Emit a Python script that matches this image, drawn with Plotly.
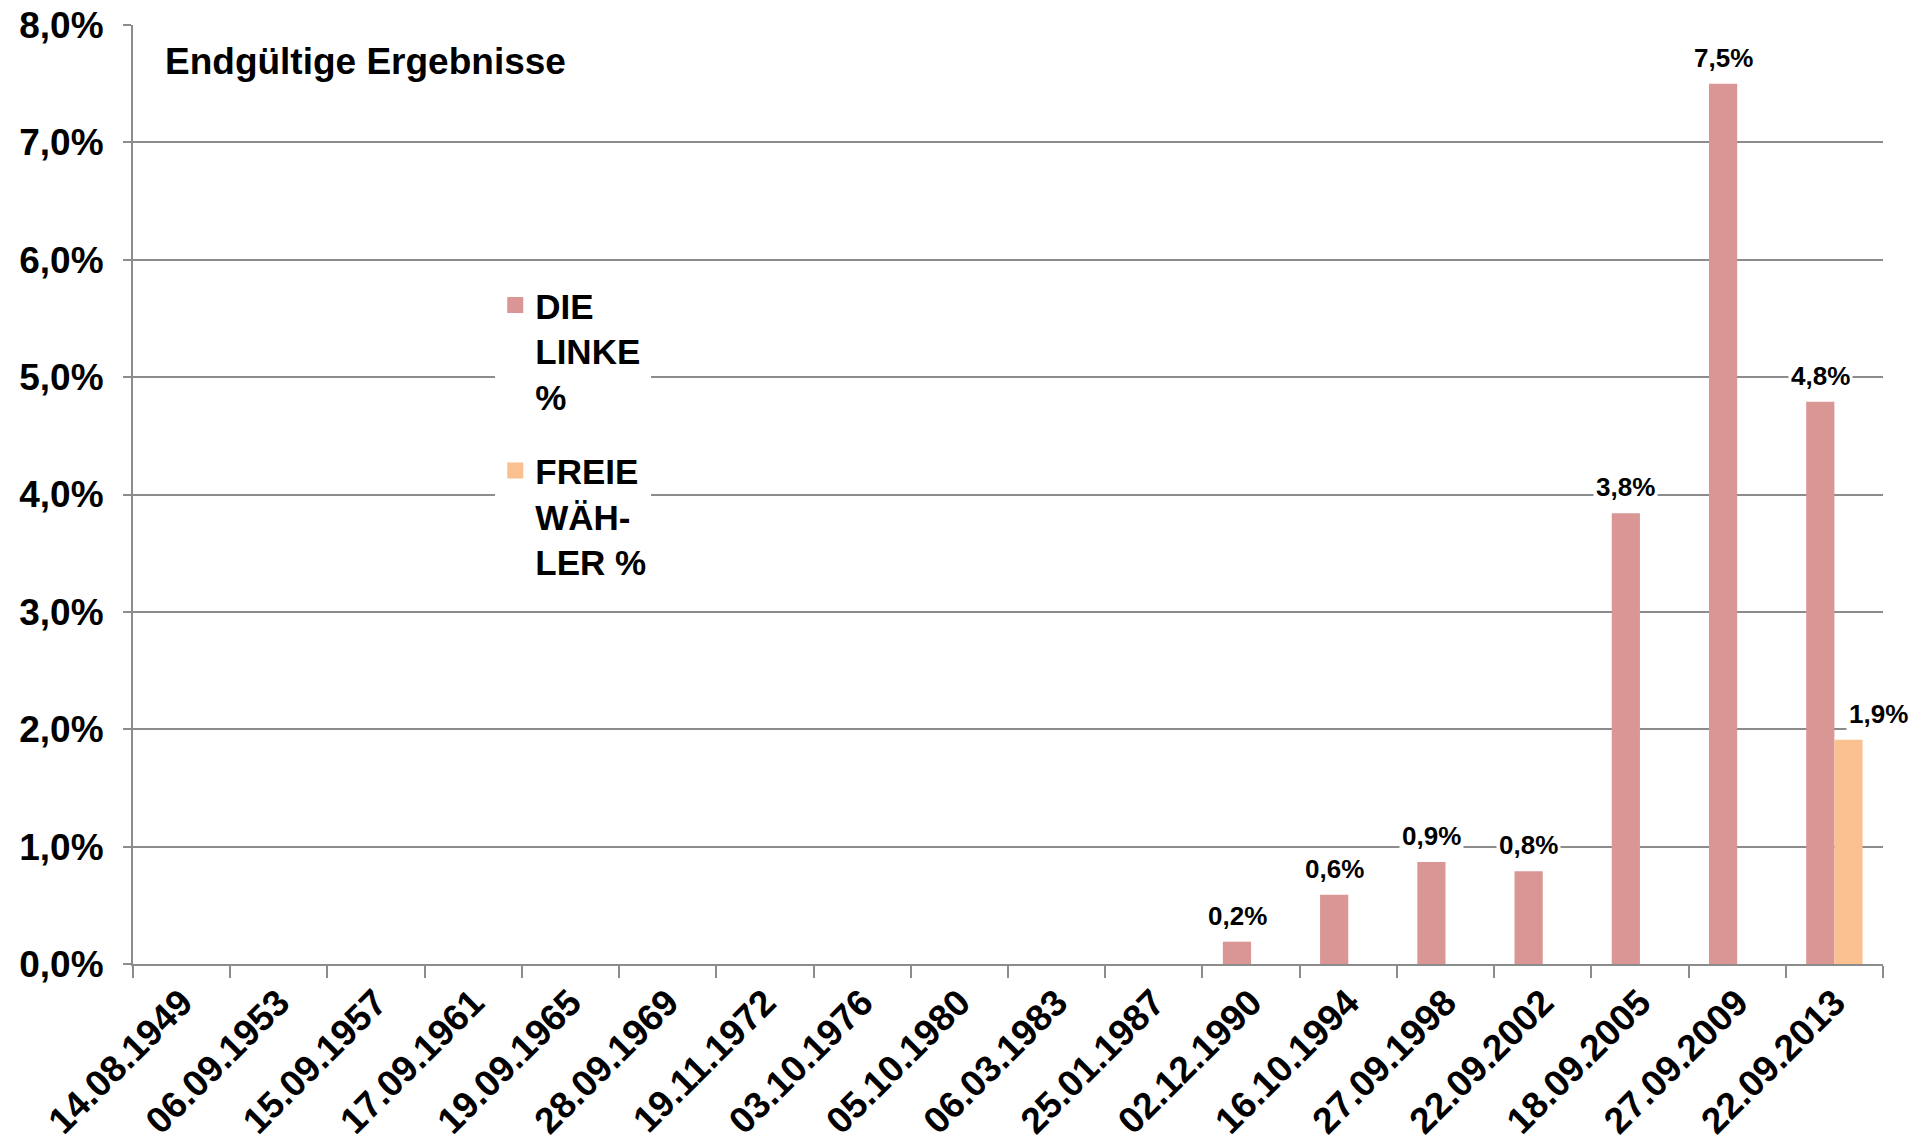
import plotly.graph_objects as go

dates = ["14.08.1949", "06.09.1953", "15.09.1957", "17.09.1961", "19.09.1965",
         "28.09.1969", "19.11.1972", "03.10.1976", "05.10.1980", "06.03.1983",
         "25.01.1987", "02.12.1990", "16.10.1994", "27.09.1998", "22.09.2002",
         "18.09.2005", "27.09.2009", "22.09.2013"]
linke = [None, None, None, None, None, None, None, None, None, None, None,
         0.19, 0.59, 0.87, 0.79, 3.84, 7.50, 4.79]
freie = [None] * 17 + [1.91]
series_names = ["DIE<br>LINKE<br>%", "FREIE<br>WÄH-<br>LER %"]
colors = ["#D99694", "#FAC090"]
y_ticks = [0, 1, 2, 3, 4, 5, 6, 7, 8]
y_ticktext = [f"{v:.1f}%".replace(".", ",") for v in y_ticks]

FONT = "Liberation Sans, Arial, sans-serif"

fig = go.Figure()
for i, (vals, name, col) in enumerate(zip([linke, freie], series_names, colors)):
    fig.add_trace(go.Bar(x=dates, y=vals, name=name, marker_color=col,
                         marker_line_width=0, legendgroup=f"g{i}",
                         showlegend=False))
# legend entries (larger square swatches)
for i, (name, col) in enumerate(zip(series_names, colors)):
    fig.add_trace(go.Scatter(x=[None], y=[None], mode="markers", name=name,
                             marker=dict(symbol="square", size=16, color=col),
                             legendgroup=f"g{i}", hoverinfo="skip"))

annotations = []
shifts = [-14, 14]
extra = {("freie", 17): 30}
for key, vals, xs in [("linke", linke, shifts[0]), ("freie", freie, shifts[1])]:
    for j, v in enumerate(vals):
        if v is None:
            continue
        txt = f"<b>{v:.1f}%</b>".replace(".", ",")
        annotations.append(dict(
            x=dates[j], y=v, xref="x", yref="y", text=txt, showarrow=False,
            xshift=xs + extra.get((key, j), 0), yshift=8, yanchor="bottom",
            bgcolor="white", borderpad=2,
            font=dict(family=FONT, size=26, color="black")))

annotations.append(dict(
    x=0.0, y=0.985, xref="paper", yref="paper", xanchor="left", yanchor="top",
    xshift=30,
    text="<b>Endgültige Ergebnisse</b>", showarrow=False,
    font=dict(family=FONT, size=37, color="black")))

fig.update_layout(
    width=1926, height=1146,
    margin=dict(l=133, r=43, t=25, b=182, autoexpand=False),
    paper_bgcolor="white", plot_bgcolor="white",
    barmode="group", bargap=0.42, bargroupgap=0,
    font=dict(family=FONT, color="black"),
    showlegend=True,
    legend=dict(x=0.207, y=0.733, xanchor="left", yanchor="top",
                bgcolor="white", valign="top", tracegroupgap=26,
                itemsizing="trace",
                font=dict(family=FONT, size=35, color="black", weight="bold"),
                itemwidth=30),
    annotations=annotations,
)
fig.update_xaxes(
    type="category", range=[-0.5, len(dates) - 0.5],
    tickangle=-45, tickson="boundaries", automargin=False,
    ticks="outside", ticklen=12, tickcolor="#8C8C8C", tickwidth=2,
    showline=True, linecolor="#8C8C8C", linewidth=2,
    showgrid=False,
    tickfont=dict(family=FONT, size=37, color="black", weight="bold"),
)
fig.update_yaxes(
    range=[0, 8], tickvals=y_ticks, ticktext=y_ticktext, automargin=False,
    showgrid=True, gridcolor="#8C8C8C", gridwidth=2,
    ticks="outside", ticklen=8, tickcolor="#8C8C8C", tickwidth=2,
    ticklabelstandoff=12,
    showline=True, linecolor="#8C8C8C", linewidth=2,
    zeroline=False,
    tickfont=dict(family=FONT, size=37, color="black", weight="bold"),
)
fig.write_html("out.html", config={"displayModeBar": False})

# remove default page margin so the figure sits at the window origin
with open("out.html", encoding="utf-8") as f:
    html = f.read()
html = html.replace("<head>", "<head><style>html,body{margin:0;padding:0;overflow:hidden}</style>", 1)
with open("out.html", "w", encoding="utf-8") as f:
    f.write(html)
